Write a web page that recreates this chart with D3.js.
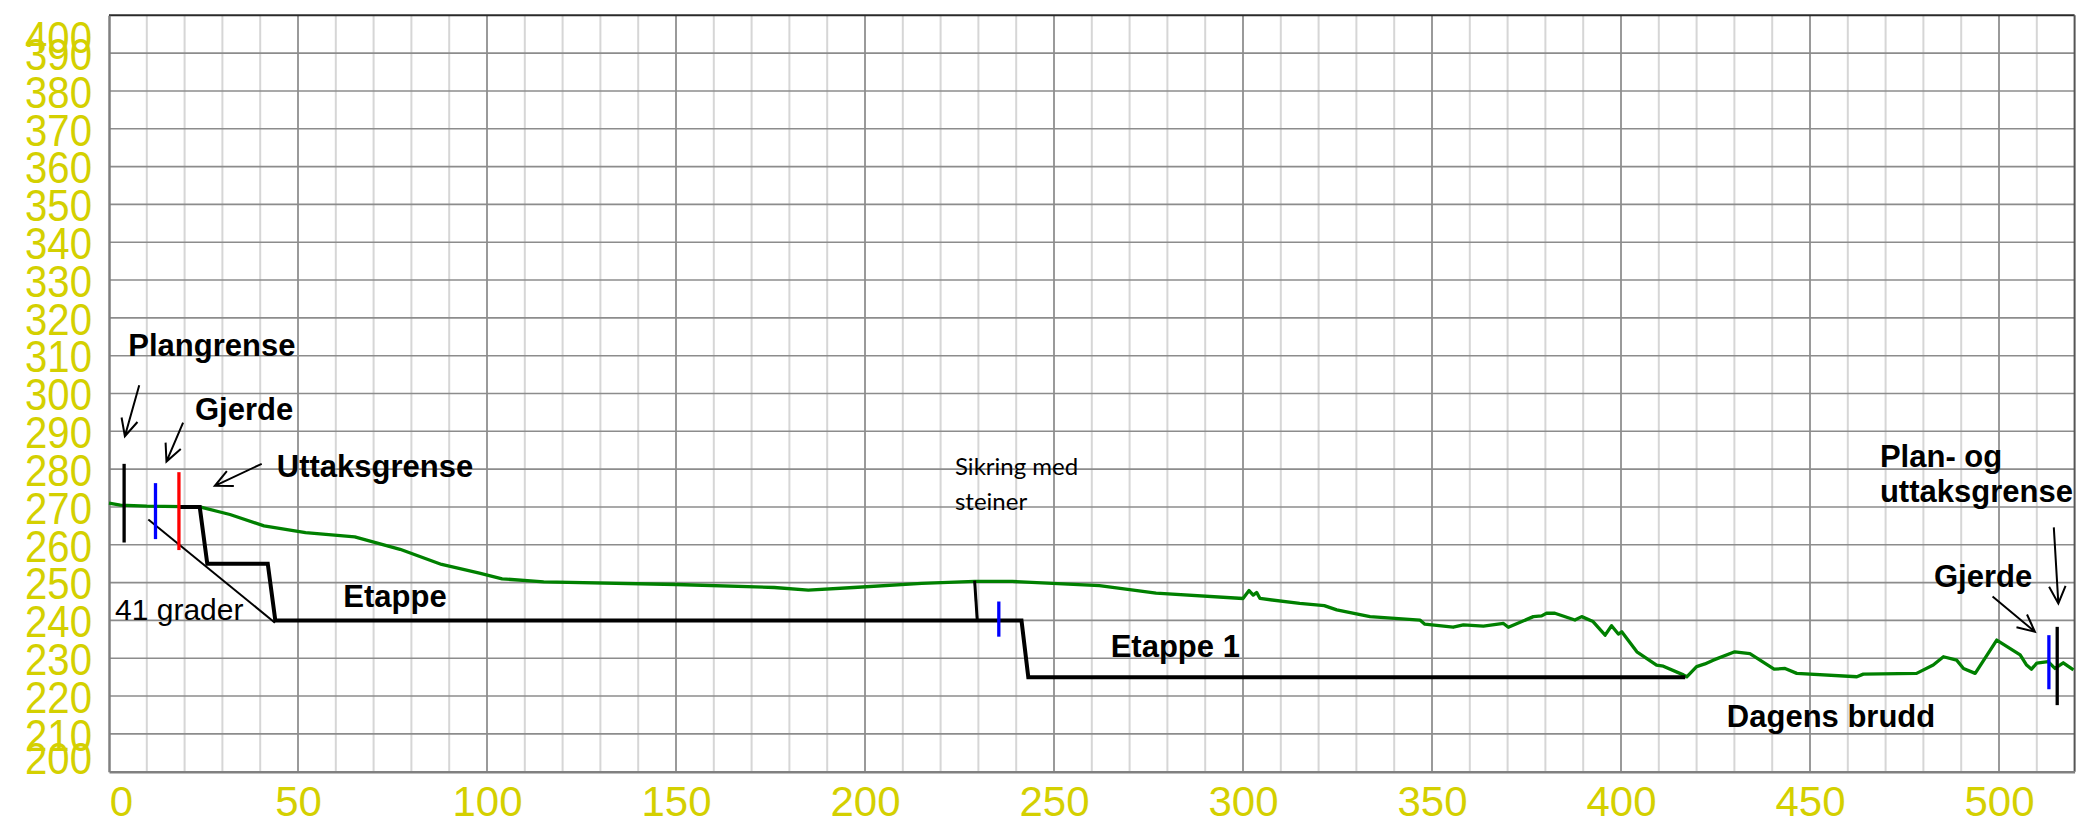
<!DOCTYPE html>
<html>
<head>
<meta charset="utf-8">
<script src="https://cdn.jsdelivr.net/npm/d3@7"></script>
<style>
  html, body { margin: 0; padding: 0; background: #fff; }
  svg { display: block; }
</style>
</head>
<body>
<svg id="chart" width="2078" height="824"></svg>
<script>
// ---------- data ----------
const xTicks = [0, 50, 100, 150, 200, 250, 300, 350, 400, 450, 500];
const yTicks = [200, 210, 220, 230, 240, 250, 260, 270, 280, 290, 300, 310, 320, 330, 340, 350, 360, 370, 380, 390, 400];

// terrain profile (distance, elevation)
const terrainX = [0, 3, 10, 24, 32, 41, 52, 65, 77, 88, 98, 104, 115, 150, 176, 185, 197, 215, 229, 239, 262, 277, 300, 301.6, 302.7, 303.6, 304.5, 315, 321.5, 324.8, 333.6, 346.8, 348.1, 355.6, 358.3, 363.6, 368.9, 370.2, 376.8, 379, 380.3, 382.5, 387.8, 389.6, 392.6, 395.8, 397.5, 399.3, 400.2, 404.2, 409.4, 411.2, 416.5, 417.4, 420, 422.2, 424.4, 430.1, 434.1, 440.5, 443.4, 446.5, 462.4, 464.1, 478.2, 482.6, 485.3, 488.8, 490.6, 493.7, 499.4, 505.6, 507.3, 508.6, 510, 513, 514.8, 517, 519.7];
const terrainY = [271, 270.5, 270.2, 270, 268, 265, 263.2, 262.1, 258.8, 254.8, 252.5, 251, 250.2, 249.5, 248.7, 248, 248.7, 249.8, 250.3, 250.3, 249.2, 247.2, 245.8, 247.9, 246.7, 247.4, 245.8, 244.5, 243.9, 242.8, 241, 240.1, 239, 238.2, 238.8, 238.5, 239.2, 238.2, 241, 241.2, 241.9, 241.9, 240.1, 241, 239.7, 236.1, 238.6, 236.4, 237, 231.7, 228.2, 227.9, 225.6, 225.1, 227.8, 228.5, 229.5, 231.7, 231.2, 227.1, 227.3, 226, 225.1, 225.8, 226, 228.2, 230.4, 229.5, 227.3, 226, 234.8, 230.9, 228.2, 227.1, 228.7, 229.1, 227.3, 228.8, 226.9];

// planned excavation profile (stepped benches)
const benchX = [18.3, 24, 26, 42, 44, 229.7, 241.4, 243.2, 417];
const benchY = [270, 270, 255, 255, 240, 240, 240, 225, 225];

// rock protection wall
const wallX = [229.7, 229];
const wallY = [240, 250.5];

// 41 degree slope line
const slopeX = [10.4, 43.9];
const slopeY = [266.7, 239.4];

// vertical boundary markers
const markerX = [4, 12.3, 18.5, 235.4, 513.2, 515.4];
const markerLow = [260.6, 261.5, 258.6, 235.7, 221.8, 217.6];
const markerHigh = [281.4, 276.3, 279.2, 245, 236.1, 238.3];
const markerKind = ["plan", "fence", "extract", "fence", "fence", "plan"];

// annotation arrows (from -> to)
const arrowX1 = [8, 19.6, 40.4, 498.3, 514.5];
const arrowY1 = [302.2, 292.3, 281.4, 246.3, 264.6];
const arrowX2 = [4.2, 15.2, 28, 509.5, 515.7];
const arrowY2 = [288.7, 282, 275.6, 237, 244.5];

// annotation texts
const labelText = ["Plangrense", "Gjerde", "Uttaksgrense", "Etappe", "41 grader", "Sikring med", "steiner", "Etappe 1", "Dagens brudd", "Plan- og", "uttaksgrense", "Gjerde"];
const labelX = [5.1, 22.75, 44.4, 62, 1.6, 223.8, 223.8, 265, 428, 468.5, 468.5, 482.8];
const labelY = [309.9, 293, 278, 243.6, 240.1, 278.5, 269.2, 230.4, 211.9, 280.6, 271.4, 248.9];
const labelKind = ["bold", "bold", "bold", "bold", "plain", "note", "note", "bold", "bold", "bold", "bold", "bold"];

// ---------- drawing ----------
const svg = d3.select("#chart");
const plotLeft = 109, plotRight = 2074.6, plotTop = 15.3, plotBottom = 771.7;

const x = d3.scaleLinear().domain([0, 520]).range([plotLeft, plotRight]);
const y = d3.scaleLinear().domain([200, 400]).range([plotBottom, plotTop]);

const grid = svg.append("g");
// vertical grid
d3.range(10, 520, 10).forEach(v => {
  const major = v % 50 === 0;
  grid.append("line")
    .attr("x1", x(v)).attr("x2", x(v))
    .attr("y1", y(400)).attr("y2", y(200))
    .attr("stroke", major ? "#9a9a9a" : "#d6d6d6")
    .attr("stroke-width", 2);
});
// horizontal grid
d3.range(210, 400, 10).forEach(v => {
  grid.append("line")
    .attr("x1", x(0)).attr("x2", x(520))
    .attr("y1", y(v)).attr("y2", y(v))
    .attr("stroke", "#8c8c8c")
    .attr("stroke-width", 1.6);
});
// frame
grid.append("line").attr("x1", x(0)).attr("x2", x(520)).attr("y1", y(400)).attr("y2", y(400))
  .attr("stroke", "#2a2a2a").attr("stroke-width", 2);
grid.append("line").attr("x1", x(520)).attr("x2", x(520)).attr("y1", y(400)).attr("y2", y(200))
  .attr("stroke", "#555").attr("stroke-width", 2);

// axes
const yAxis = svg.append("g")
  .attr("transform", `translate(${plotLeft},0)`)
  .call(d3.axisLeft(y).tickValues(yTicks).tickSize(0).tickPadding(17).tickFormat(d3.format("d")));
yAxis.select(".domain").attr("stroke", "#808080").attr("stroke-width", 2.5);
yAxis.selectAll("text")
  .attr("fill", "#d4d000")
  .attr("font-family", "'Liberation Sans', Arial, sans-serif")
  .attr("font-size", 44)
  .attr("textLength", 67)
  .attr("lengthAdjust", "spacingAndGlyphs")
  .attr("dy", d => d === 400 ? "0.85em" : d === 200 ? "0.03em" : "0.37em");

const xAxis = svg.append("g")
  .attr("transform", `translate(0,${plotBottom})`)
  .call(d3.axisBottom(x).tickValues(xTicks).tickSize(0).tickPadding(0).tickFormat(d3.format("d")));
xAxis.select(".domain").attr("stroke", "#808080").attr("stroke-width", 2.5);
xAxis.selectAll("text")
  .attr("fill", "#d4d000")
  .attr("font-family", "'Liberation Sans', Arial, sans-serif")
  .attr("font-size", 42)
  .attr("y", 44)
  .attr("dy", 0)
  .attr("dx", d => d === 0 ? 12 : 0);

const line = d3.line().x(d => x(d[0])).y(d => y(d[1]));
const zip = (a, b) => a.map((v, i) => [v, b[i]]);

// slope line
svg.append("path").datum(zip(slopeX, slopeY)).attr("d", line)
  .attr("fill", "none").attr("stroke", "#000").attr("stroke-width", 2);

// terrain
svg.append("path").datum(zip(terrainX, terrainY)).attr("d", line)
  .attr("fill", "none").attr("stroke", "#008000").attr("stroke-width", 3.3)
  .attr("stroke-linejoin", "round");

// benches
svg.append("path").datum(zip(benchX, benchY)).attr("d", line)
  .attr("fill", "none").attr("stroke", "#000").attr("stroke-width", 4)
  .attr("stroke-linejoin", "miter");
svg.append("path").datum(zip(wallX, wallY)).attr("d", line)
  .attr("fill", "none").attr("stroke", "#000").attr("stroke-width", 3);

// markers
const markerColor = { plan: "#000", fence: "#0000ff", extract: "#ff0000" };
markerX.forEach((mx, i) => {
  svg.append("line")
    .attr("x1", x(mx)).attr("x2", x(mx))
    .attr("y1", y(markerLow[i])).attr("y2", y(markerHigh[i]))
    .attr("stroke", markerColor[markerKind[i]]).attr("stroke-width", 3.3);
});

// arrows
arrowX1.forEach((ax, i) => {
  const px1 = x(ax), py1 = y(arrowY1[i]), px2 = x(arrowX2[i]), py2 = y(arrowY2[i]);
  const ang = Math.atan2(py2 - py1, px2 - px1);
  const L = 19, spread = Math.PI / 7;
  const w1 = [px2 - L * Math.cos(ang - spread), py2 - L * Math.sin(ang - spread)];
  const w2 = [px2 - L * Math.cos(ang + spread), py2 - L * Math.sin(ang + spread)];
  svg.append("path")
    .attr("d", `M${px1},${py1}L${px2},${py2}M${w1[0]},${w1[1]}L${px2},${py2}L${w2[0]},${w2[1]}`)
    .attr("fill", "none").attr("stroke", "#000").attr("stroke-width", 2);
});

// labels
labelText.forEach((t, i) => {
  const k = labelKind[i];
  const el = svg.append("text")
    .attr("x", x(labelX[i])).attr("y", y(labelY[i]))
    .attr("fill", "#000")
    .text(t);
  if (k === "bold") {
    el.attr("font-family", "'Liberation Sans', Arial, sans-serif").attr("font-weight", "bold").attr("font-size", 31);
  } else if (k === "plain") {
    el.attr("font-family", "'Liberation Sans', Arial, sans-serif").attr("font-size", 30);
  } else {
    el.attr("font-family", "Lato, 'Open Sans', sans-serif").attr("font-size", 24);
  }
});
</script>
</body>
</html>
